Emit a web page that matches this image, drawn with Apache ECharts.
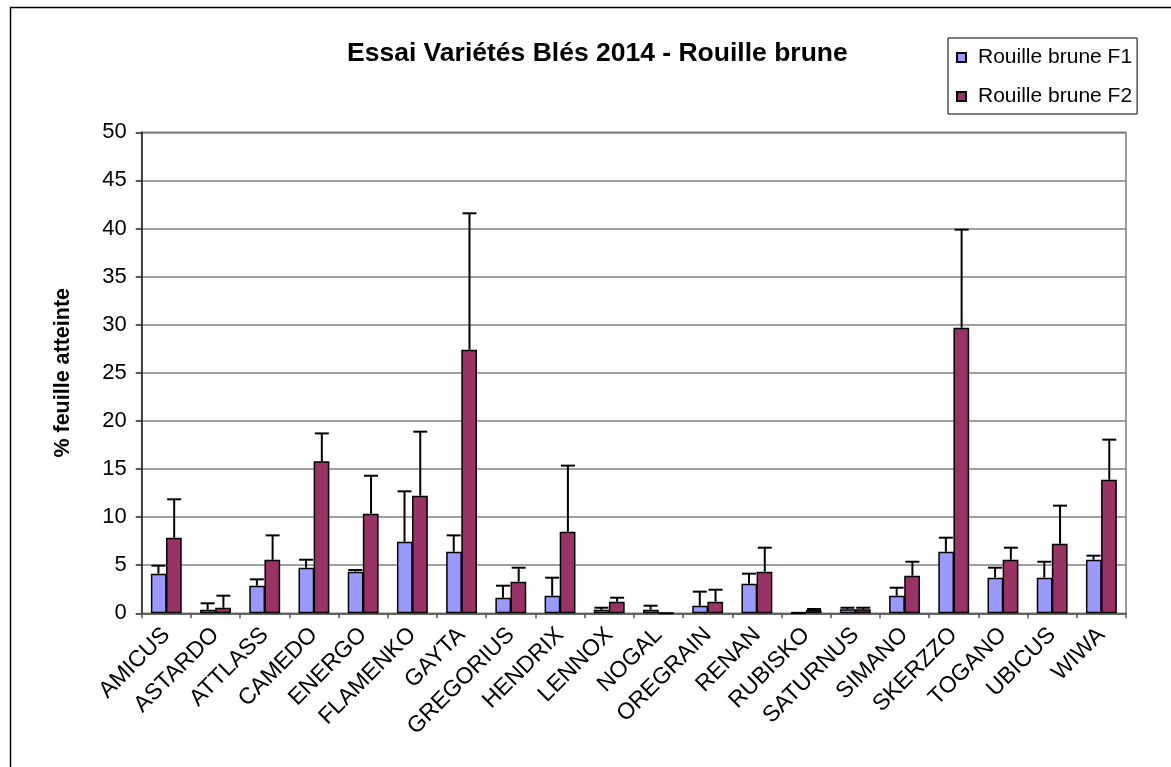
<!DOCTYPE html>
<html>
<head>
<meta charset="utf-8">
<script src="https://cdn.jsdelivr.net/npm/echarts@6/dist/echarts.min.js"></script>
<style>
html,body{margin:0;padding:0;background:#fff;}
#chart{width:1171px;height:767px;}
</style>
</head>
<body>
<div id="chart"></div>
<script>
const categories = ['AMICUS','ASTARDO','ATTLASS','CAMEDO','ENERGO','FLAMENKO','GAYTA','GREGORIUS','HENDRIX','LENNOX','NOGAL','OREGRAIN','RENAN','RUBISKO','SATURNUS','SIMANO','SKERZZO','TOGANO','UBICUS','WIWA'];
const seriesNames = ['Rouille brune F1','Rouille brune F2'];
const valuesF1 = [4.12,0.37,2.87,4.74,4.32,7.44,6.4,1.62,1.83,0.37,0.37,0.79,3.08,0.05,0.42,1.83,6.4,3.7,3.7,5.57];
const errorsF1 = [0.83,0.67,0.66,0.83,0.18,5.24,1.7,1.25,1.87,0.21,0.42,1.46,1.04,0,0.16,0.83,1.46,1.04,1.66,0.42];
const valuesF2 = [7.86,0.58,5.57,15.8,10.35,12.23,27.4,3.29,8.48,1.2,0,1.2,4.32,0.35,0.42,3.91,29.69,5.57,7.24,13.89];
const errorsF2 = [3.99,1.25,2.53,2.9,3.95,6.65,14.18,1.45,6.87,0.42,0,1.25,2.5,0.1,0.16,1.45,10.19,1.25,3.95,4.16];
const yTicks = {min:0, max:50, interval:5};
const titleText = 'Essai Variétés Blés 2014 - Rouille brune';
const yName = '% feuille atteinte';

const FONT = '"Liberation Sans", Arial, sans-serif';
const BAR_FRAC = 0.32;

function errSeries(vals, errs, sign, name) {
  return {
    type: 'custom',
    name: name,
    z: 5,
    silent: true,
    data: vals.map((v, i) => [i, v, v + errs[i]]),
    renderItem: function (params, api) {
      const cat = api.value(0);
      const base = api.coord([cat, api.value(1)]);
      const top = api.coord([cat, api.value(2)]);
      const cw = api.size([1, 0])[0];
      const x = base[0] + sign * cw * BAR_FRAC / 2;
      const half = 7;
      const st = {stroke: '#000', lineWidth: 2, fill: null};
      return {
        type: 'group',
        children: [
          {type: 'line', shape: {x1: x, y1: base[1], x2: x, y2: top[1]}, style: st},
          {type: 'line', shape: {x1: x - half, y1: top[1], x2: x + half, y2: top[1]}, style: st}
        ]
      };
    }
  };
}

const chart = echarts.init(document.getElementById('chart'));
chart.setOption({
  backgroundColor: '#fff',
  animation: false,
  textStyle: {fontFamily: FONT},
  title: {
    text: titleText,
    left: 342, top: 35,
    textStyle: {fontFamily: FONT, fontSize: 26.5, fontWeight: 'bold', color: '#000'}
  },
  legend: {
    data: seriesNames,
    orient: 'vertical',
    left: 948, top: 38,
    padding: [9, 5, 7, 8],
    itemGap: 18,
    itemWidth: 9, itemHeight: 9,
    icon: 'rect',
    borderColor: '#000', borderWidth: 1,
    textStyle: {fontFamily: FONT, fontSize: 21, color: '#000', padding: [0, 0, 0, 7]}
  },
  graphic: [{
    type: 'rect', left: 8, top: 5, z: -10,
    shape: {width: 1200, height: 800},
    style: {fill: null, stroke: '#000', lineWidth: 1.5}
  }],
  grid: {left: 141.7, right: 45, top: 132.3, bottom: 153.7, show: true, borderColor: '#808080', borderWidth: 1.5},
  xAxis: {
    type: 'category',
    data: categories,
    axisLine: {lineStyle: {color: '#555', width: 1.5}},
    axisTick: {show: true, length: 5, alignWithLabel: false, lineStyle: {color: '#555', width: 1.5}},
    axisLabel: {rotate: 45, interval: 0, fontSize: 23, color: '#000', fontFamily: FONT, margin: 18}
  },
  yAxis: {
    type: 'value',
    min: yTicks.min, max: yTicks.max, interval: yTicks.interval,
    name: yName,
    nameLocation: 'middle',
    nameGap: 68,
    nameTextStyle: {fontFamily: FONT, fontSize: 21.5, fontWeight: 'bold', color: '#000'},
    axisLine: {show: true, lineStyle: {color: '#222', width: 1.5}},
    axisTick: {show: true, length: 6, lineStyle: {color: '#222', width: 1.5}},
    axisLabel: {fontSize: 22, color: '#000', fontFamily: FONT, margin: 15},
    splitLine: {lineStyle: {color: '#808080', width: 1.5}}
  },
  series: [
    {
      type: 'bar', name: seriesNames[0], data: valuesF1,
      barWidth: (BAR_FRAC * 100) + '%', barGap: '-4%',
      itemStyle: {color: '#9999FF', borderColor: '#000', borderWidth: 1.5}
    },
    {
      type: 'bar', name: seriesNames[1], data: valuesF2,
      barWidth: (BAR_FRAC * 100) + '%', barGap: '-4%',
      itemStyle: {color: '#993366', borderColor: '#000', borderWidth: 1.5}
    },
    errSeries(valuesF1, errorsF1, -1, 'errF1'),
    errSeries(valuesF2, errorsF2, 1, 'errF2')
  ]
});
</script>
</body>
</html>
